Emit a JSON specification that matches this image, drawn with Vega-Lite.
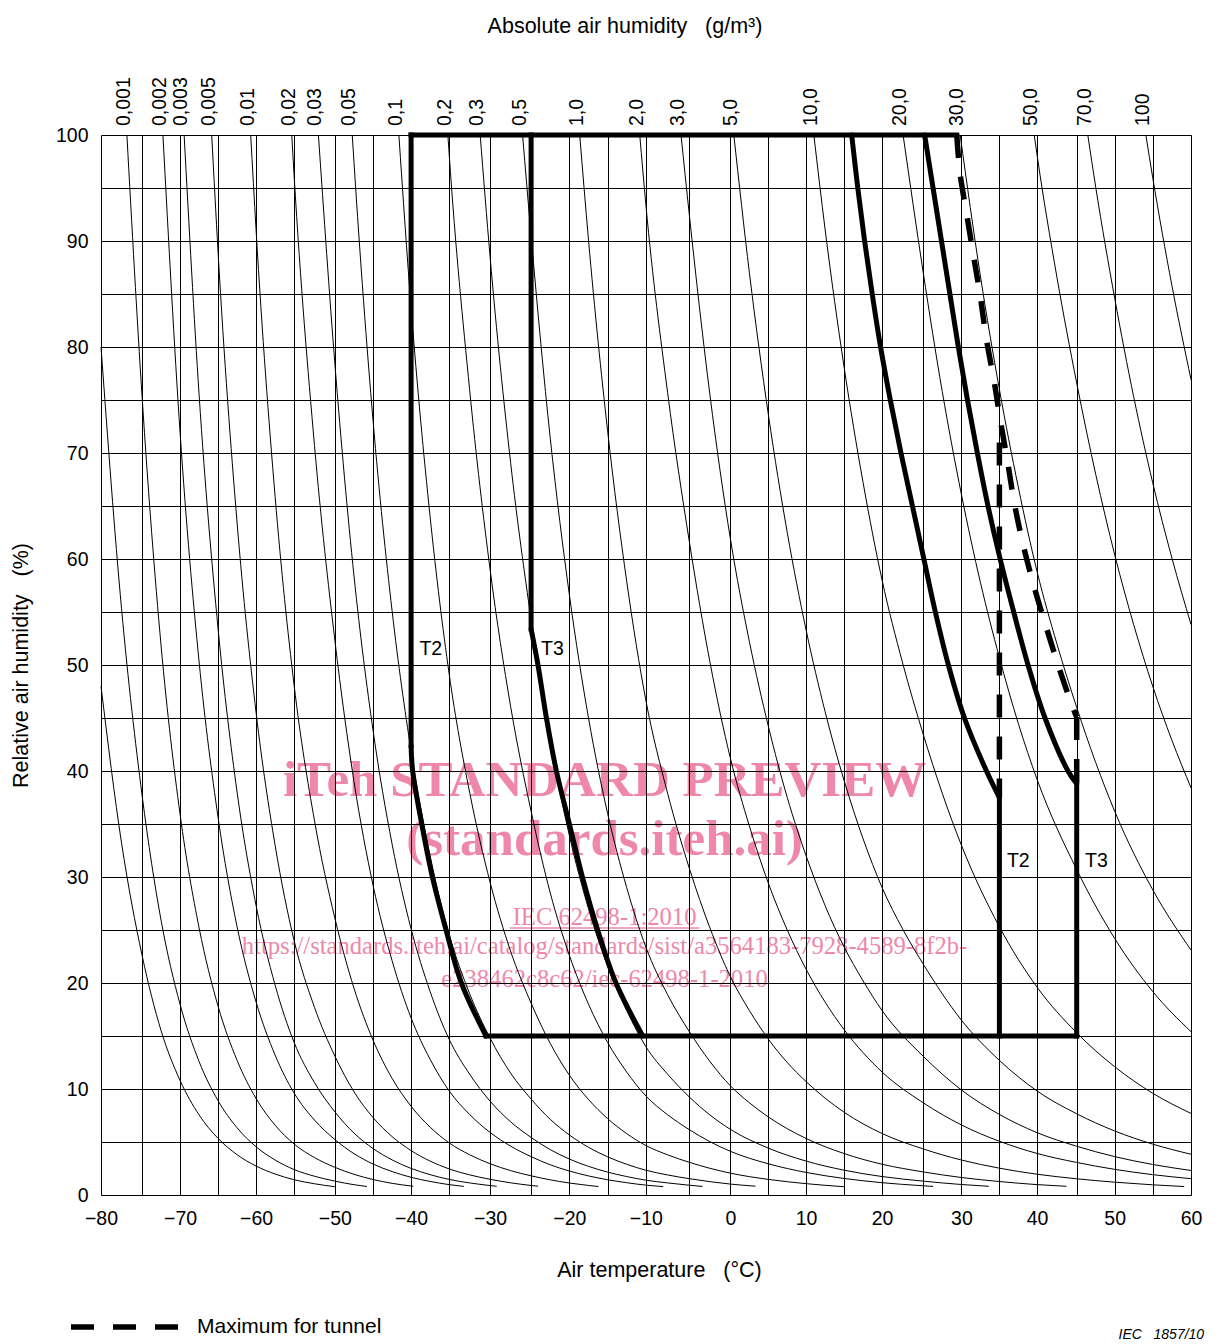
{
"$schema": "https://vega.github.io/schema/vega-lite/v6.json",
"width": 1090, "height": 1060,
"autosize": {"type": "none"},
"padding": {"left": 101, "top": 135, "right": 35, "bottom": 149},
"background": "white",
"config": {"view": {"stroke": null}, "font": "Liberation Sans"},
"title": {"text": "Absolute air humidity\u00a0\u00a0\u00a0(g/m³)", "font": "Liberation Sans", "fontSize": 21.5, "fontWeight": "normal", "color": "#000", "anchor": "middle", "frame": "group", "dx": -21, "offset": 40},
"datasets": {
"curves": [
{"a":"0,0003","t":-80,"r":48},{"a":"0,0003","t":-77.5,"r":33.2},{"a":"0,0003","t":-75,"r":22.6},{"a":"0,0003","t":-72.5,"r":15.5},{"a":"0,0003","t":-70,"r":10.8},{"a":"0,0003","t":-67.5,"r":7.55},{"a":"0,0003","t":-65,"r":5.34},{"a":"0,0003","t":-62.5,"r":3.8},{"a":"0,0003","t":-60,"r":2.73},{"a":"0,0003","t":-57.5,"r":1.98},{"a":"0,0003","t":-55,"r":1.44},{"a":"0,0003","t":-52.5,"r":1.06},{"a":"0,0003","t":-50,"r":0.78},
{"a":"0,0005","t":-80,"r":80},{"a":"0,0005","t":-77.5,"r":55.3},{"a":"0,0005","t":-75,"r":37.7},{"a":"0,0005","t":-72.5,"r":25.9},{"a":"0,0005","t":-70,"r":17.97},{"a":"0,0005","t":-67.5,"r":12.59},{"a":"0,0005","t":-65,"r":8.89},{"a":"0,0005","t":-62.5,"r":6.34},{"a":"0,0005","t":-60,"r":4.55},{"a":"0,0005","t":-57.5,"r":3.3},{"a":"0,0005","t":-55,"r":2.4},{"a":"0,0005","t":-52.5,"r":1.77},{"a":"0,0005","t":-50,"r":1.31},{"a":"0,0005","t":-47.5,"r":0.97},{"a":"0,0005","t":-45.8,"r":0.8},
{"a":"0,001","t":-76.85,"r":100},{"a":"0,001","t":-75,"r":75.3},{"a":"0,001","t":-72.5,"r":51.8},{"a":"0,001","t":-70,"r":35.9},{"a":"0,001","t":-67.5,"r":25.2},{"a":"0,001","t":-65,"r":17.8},{"a":"0,001","t":-62.5,"r":12.7},{"a":"0,001","t":-60,"r":9.1},{"a":"0,001","t":-57.5,"r":6.59},{"a":"0,001","t":-55,"r":4.81},{"a":"0,001","t":-52.5,"r":3.53},{"a":"0,001","t":-50,"r":2.61},{"a":"0,001","t":-47.5,"r":1.95},{"a":"0,001","t":-45,"r":1.46},{"a":"0,001","t":-42.5,"r":1.1},{"a":"0,001","t":-39.7,"r":0.82},
{"a":"0,002","t":-72.26,"r":100},{"a":"0,002","t":-70,"r":71.9},{"a":"0,002","t":-67.5,"r":50.3},{"a":"0,002","t":-65,"r":35.6},{"a":"0,002","t":-62.5,"r":25.3},{"a":"0,002","t":-60,"r":18.2},{"a":"0,002","t":-57.5,"r":13.2},{"a":"0,002","t":-55,"r":9.62},{"a":"0,002","t":-52.5,"r":7.07},{"a":"0,002","t":-50,"r":5.23},{"a":"0,002","t":-47.5,"r":3.9},{"a":"0,002","t":-45,"r":2.92},{"a":"0,002","t":-42.5,"r":2.21},{"a":"0,002","t":-40,"r":1.67},{"a":"0,002","t":-37.5,"r":1.28},{"a":"0,002","t":-35,"r":0.98},{"a":"0,002","t":-33.2,"r":0.81},
{"a":"0,003","t":-69.47,"r":100},{"a":"0,003","t":-67.5,"r":75.5},{"a":"0,003","t":-65,"r":53.4},{"a":"0,003","t":-62.5,"r":38},{"a":"0,003","t":-60,"r":27.3},{"a":"0,003","t":-57.5,"r":19.8},{"a":"0,003","t":-55,"r":14.4},{"a":"0,003","t":-52.5,"r":10.6},{"a":"0,003","t":-50,"r":7.84},{"a":"0,003","t":-47.5,"r":5.84},{"a":"0,003","t":-45,"r":4.38},{"a":"0,003","t":-42.5,"r":3.31},{"a":"0,003","t":-40,"r":2.51},{"a":"0,003","t":-37.5,"r":1.92},{"a":"0,003","t":-35,"r":1.47},{"a":"0,003","t":-32.5,"r":1.14},{"a":"0,003","t":-30,"r":0.89},{"a":"0,003","t":-29.2,"r":0.82},
{"a":"0,005","t":-65.84,"r":100},{"a":"0,005","t":-65,"r":88.9},{"a":"0,005","t":-62.5,"r":63.4},{"a":"0,005","t":-60,"r":45.5},{"a":"0,005","t":-57.5,"r":33},{"a":"0,005","t":-55,"r":24},{"a":"0,005","t":-52.5,"r":17.7},{"a":"0,005","t":-50,"r":13.1},{"a":"0,005","t":-47.5,"r":9.74},{"a":"0,005","t":-45,"r":7.3},{"a":"0,005","t":-42.5,"r":5.51},{"a":"0,005","t":-40,"r":4.19},{"a":"0,005","t":-37.5,"r":3.2},{"a":"0,005","t":-35,"r":2.46},{"a":"0,005","t":-32.5,"r":1.9},{"a":"0,005","t":-30,"r":1.48},{"a":"0,005","t":-27.5,"r":1.15},{"a":"0,005","t":-25,"r":0.9},{"a":"0,005","t":-24.1,"r":0.83},
{"a":"0,01","t":-60.71,"r":100},{"a":"0,01","t":-60,"r":91},{"a":"0,01","t":-57.5,"r":65.9},{"a":"0,01","t":-55,"r":48.1},{"a":"0,01","t":-52.5,"r":35.3},{"a":"0,01","t":-50,"r":26.1},{"a":"0,01","t":-47.5,"r":19.5},{"a":"0,01","t":-45,"r":14.6},{"a":"0,01","t":-42.5,"r":11},{"a":"0,01","t":-40,"r":8.37},{"a":"0,01","t":-37.5,"r":6.4},{"a":"0,01","t":-35,"r":4.92},{"a":"0,01","t":-32.5,"r":3.8},{"a":"0,01","t":-30,"r":2.95},{"a":"0,01","t":-27.5,"r":2.3},{"a":"0,01","t":-25,"r":1.81},{"a":"0,01","t":-22.5,"r":1.43},{"a":"0,01","t":-20,"r":1.13},{"a":"0,01","t":-17.5,"r":0.9},{"a":"0,01","t":-16.2,"r":0.8},
{"a":"0,02","t":-55.31,"r":100},{"a":"0,02","t":-55,"r":96.2},{"a":"0,02","t":-52.5,"r":70.7},{"a":"0,02","t":-50,"r":52.3},{"a":"0,02","t":-47.5,"r":39},{"a":"0,02","t":-45,"r":29.2},{"a":"0,02","t":-42.5,"r":22.1},{"a":"0,02","t":-40,"r":16.7},{"a":"0,02","t":-37.5,"r":12.8},{"a":"0,02","t":-35,"r":9.83},{"a":"0,02","t":-32.5,"r":7.6},{"a":"0,02","t":-30,"r":5.9},{"a":"0,02","t":-27.5,"r":4.61},{"a":"0,02","t":-25,"r":3.62},{"a":"0,02","t":-22.5,"r":2.85},{"a":"0,02","t":-20,"r":2.26},{"a":"0,02","t":-17.5,"r":1.8},{"a":"0,02","t":-15,"r":1.44},{"a":"0,02","t":-12.5,"r":1.16},{"a":"0,02","t":-10,"r":0.93},{"a":"0,02","t":-8,"r":0.79},
{"a":"0,03","t":-52.02,"r":100},{"a":"0,03","t":-50,"r":78.4},{"a":"0,03","t":-47.5,"r":58.4},{"a":"0,03","t":-45,"r":43.8},{"a":"0,03","t":-42.5,"r":33.1},{"a":"0,03","t":-40,"r":25.1},{"a":"0,03","t":-37.5,"r":19.2},{"a":"0,03","t":-35,"r":14.7},{"a":"0,03","t":-32.5,"r":11.4},{"a":"0,03","t":-30,"r":8.85},{"a":"0,03","t":-27.5,"r":6.91},{"a":"0,03","t":-25,"r":5.43},{"a":"0,03","t":-22.5,"r":4.28},{"a":"0,03","t":-20,"r":3.39},{"a":"0,03","t":-17.5,"r":2.7},{"a":"0,03","t":-15,"r":2.16},{"a":"0,03","t":-12.5,"r":1.74},{"a":"0,03","t":-10,"r":1.4},{"a":"0,03","t":-7.5,"r":1.14},{"a":"0,03","t":-5,"r":0.92},{"a":"0,03","t":-3.4,"r":0.81},
{"a":"0,05","t":-47.73,"r":100},{"a":"0,05","t":-47.5,"r":97.4},{"a":"0,05","t":-45,"r":73},{"a":"0,05","t":-42.5,"r":55.1},{"a":"0,05","t":-40,"r":41.9},{"a":"0,05","t":-37.5,"r":32},{"a":"0,05","t":-35,"r":24.6},{"a":"0,05","t":-32.5,"r":19},{"a":"0,05","t":-30,"r":14.8},{"a":"0,05","t":-27.5,"r":11.5},{"a":"0,05","t":-25,"r":9.05},{"a":"0,05","t":-22.5,"r":7.14},{"a":"0,05","t":-20,"r":5.66},{"a":"0,05","t":-17.5,"r":4.5},{"a":"0,05","t":-15,"r":3.6},{"a":"0,05","t":-12.5,"r":2.9},{"a":"0,05","t":-10,"r":2.34},{"a":"0,05","t":-7.5,"r":1.89},{"a":"0,05","t":-5,"r":1.54},{"a":"0,05","t":-2.5,"r":1.26},{"a":"0,05","t":0,"r":1.03},{"a":"0,05","t":3.3,"r":0.83},
{"a":"0,1","t":-41.61,"r":100},{"a":"0,1","t":-40,"r":83.7},{"a":"0,1","t":-37.5,"r":64},{"a":"0,1","t":-35,"r":49.2},{"a":"0,1","t":-32.5,"r":38},{"a":"0,1","t":-30,"r":29.5},{"a":"0,1","t":-27.5,"r":23},{"a":"0,1","t":-25,"r":18.1},{"a":"0,1","t":-22.5,"r":14.3},{"a":"0,1","t":-20,"r":11.3},{"a":"0,1","t":-17.5,"r":9.01},{"a":"0,1","t":-15,"r":7.21},{"a":"0,1","t":-12.5,"r":5.79},{"a":"0,1","t":-10,"r":4.67},{"a":"0,1","t":-7.5,"r":3.79},{"a":"0,1","t":-5,"r":3.08},{"a":"0,1","t":-2.5,"r":2.52},{"a":"0,1","t":0,"r":2.06},{"a":"0,1","t":5,"r":1.47},{"a":"0,1","t":10,"r":1.07},{"a":"0,1","t":15,"r":0.78},
{"a":"0,2","t":-35.16,"r":100},{"a":"0,2","t":-35,"r":98.3},{"a":"0,2","t":-32.5,"r":76},{"a":"0,2","t":-30,"r":59},{"a":"0,2","t":-27.5,"r":46.1},{"a":"0,2","t":-25,"r":36.2},{"a":"0,2","t":-22.5,"r":28.5},{"a":"0,2","t":-20,"r":22.6},{"a":"0,2","t":-17.5,"r":18},{"a":"0,2","t":-15,"r":14.4},{"a":"0,2","t":-12.5,"r":11.6},{"a":"0,2","t":-10,"r":9.35},{"a":"0,2","t":-7.5,"r":7.57},{"a":"0,2","t":-5,"r":6.16},{"a":"0,2","t":-2.5,"r":5.03},{"a":"0,2","t":0,"r":4.12},{"a":"0,2","t":5,"r":2.94},{"a":"0,2","t":10,"r":2.13},{"a":"0,2","t":15,"r":1.56},{"a":"0,2","t":20,"r":1.16},{"a":"0,2","t":25,"r":0.87},{"a":"0,2","t":26.3,"r":0.81},
{"a":"0,3","t":-31.21,"r":100},{"a":"0,3","t":-30,"r":88.5},{"a":"0,3","t":-27.5,"r":69.1},{"a":"0,3","t":-25,"r":54.3},{"a":"0,3","t":-22.5,"r":42.8},{"a":"0,3","t":-20,"r":33.9},{"a":"0,3","t":-17.5,"r":27},{"a":"0,3","t":-15,"r":21.6},{"a":"0,3","t":-12.5,"r":17.4},{"a":"0,3","t":-10,"r":14},{"a":"0,3","t":-7.5,"r":11.4},{"a":"0,3","t":-5,"r":9.24},{"a":"0,3","t":-2.5,"r":7.55},{"a":"0,3","t":0,"r":6.19},{"a":"0,3","t":5,"r":4.42},{"a":"0,3","t":10,"r":3.2},{"a":"0,3","t":15,"r":2.34},{"a":"0,3","t":20,"r":1.74},{"a":"0,3","t":25,"r":1.31},{"a":"0,3","t":30,"r":0.99},{"a":"0,3","t":33.6,"r":0.82},
{"a":"0,5","t":-26.04,"r":100},{"a":"0,5","t":-25,"r":90.5},{"a":"0,5","t":-22.5,"r":71.4},{"a":"0,5","t":-20,"r":56.6},{"a":"0,5","t":-17.5,"r":45},{"a":"0,5","t":-15,"r":36},{"a":"0,5","t":-12.5,"r":29},{"a":"0,5","t":-10,"r":23.4},{"a":"0,5","t":-7.5,"r":18.9},{"a":"0,5","t":-5,"r":15.4},{"a":"0,5","t":-2.5,"r":12.6},{"a":"0,5","t":0,"r":10.3},{"a":"0,5","t":2.5,"r":8.7},{"a":"0,5","t":5,"r":7.36},{"a":"0,5","t":10,"r":5.33},{"a":"0,5","t":15,"r":3.91},{"a":"0,5","t":20,"r":2.9},{"a":"0,5","t":25,"r":2.18},{"a":"0,5","t":30,"r":1.65},{"a":"0,5","t":35,"r":1.27},{"a":"0,5","t":40,"r":0.98},{"a":"0,5","t":43.7,"r":0.82},
{"a":"1,0","t":-18.65,"r":100},{"a":"1,0","t":-17.5,"r":90.1},{"a":"1,0","t":-15,"r":72.1},{"a":"1,0","t":-12.5,"r":57.9},{"a":"1,0","t":-10,"r":46.7},{"a":"1,0","t":-7.5,"r":37.9},{"a":"1,0","t":-5,"r":30.8},{"a":"1,0","t":-2.5,"r":25.2},{"a":"1,0","t":0,"r":20.6},{"a":"1,0","t":2.5,"r":17.4},{"a":"1,0","t":5,"r":14.7},{"a":"1,0","t":7.5,"r":12.5},{"a":"1,0","t":10,"r":10.7},{"a":"1,0","t":15,"r":7.81},{"a":"1,0","t":20,"r":5.8},{"a":"1,0","t":25,"r":4.35},{"a":"1,0","t":30,"r":3.3},{"a":"1,0","t":35,"r":2.53},{"a":"1,0","t":40,"r":1.96},{"a":"1,0","t":45,"r":1.53},{"a":"1,0","t":50,"r":1.21},{"a":"1,0","t":55,"r":0.96},{"a":"1,0","t":59.1,"r":0.8},
{"a":"2,0","t":-10.79,"r":100},{"a":"2,0","t":-10,"r":93.5},{"a":"2,0","t":-7.5,"r":75.7},{"a":"2,0","t":-5,"r":61.6},{"a":"2,0","t":-2.5,"r":50.3},{"a":"2,0","t":0,"r":41.2},{"a":"2,0","t":2.5,"r":34.8},{"a":"2,0","t":5,"r":29.4},{"a":"2,0","t":7.5,"r":25},{"a":"2,0","t":10,"r":21.3},{"a":"2,0","t":12.5,"r":18.2},{"a":"2,0","t":15,"r":15.6},{"a":"2,0","t":20,"r":11.6},{"a":"2,0","t":25,"r":8.71},{"a":"2,0","t":30,"r":6.61},{"a":"2,0","t":35,"r":5.07},{"a":"2,0","t":40,"r":3.92},{"a":"2,0","t":45,"r":3.07},{"a":"2,0","t":50,"r":2.42},{"a":"2,0","t":55,"r":1.92},{"a":"2,0","t":60,"r":1.54},
{"a":"3,0","t":-5.96,"r":100},{"a":"3,0","t":-5,"r":92.4},{"a":"3,0","t":-2.5,"r":75.5},{"a":"3,0","t":0,"r":61.9},{"a":"3,0","t":2.5,"r":52.2},{"a":"3,0","t":5,"r":44.2},{"a":"3,0","t":7.5,"r":37.5},{"a":"3,0","t":10,"r":32},{"a":"3,0","t":12.5,"r":27.3},{"a":"3,0","t":15,"r":23.4},{"a":"3,0","t":17.5,"r":20.2},{"a":"3,0","t":20,"r":17.4},{"a":"3,0","t":25,"r":13.1},{"a":"3,0","t":30,"r":9.91},{"a":"3,0","t":35,"r":7.6},{"a":"3,0","t":40,"r":5.88},{"a":"3,0","t":45,"r":4.6},{"a":"3,0","t":50,"r":3.62},{"a":"3,0","t":55,"r":2.88},{"a":"3,0","t":60,"r":2.31},
{"a":"5,0","t":0.45,"r":100},{"a":"5,0","t":2.5,"r":87},{"a":"5,0","t":5,"r":73.6},{"a":"5,0","t":7.5,"r":62.5},{"a":"5,0","t":10,"r":53.3},{"a":"5,0","t":12.5,"r":45.6},{"a":"5,0","t":15,"r":39.1},{"a":"5,0","t":17.5,"r":33.6},{"a":"5,0","t":20,"r":29},{"a":"5,0","t":22.5,"r":25.1},{"a":"5,0","t":25,"r":21.8},{"a":"5,0","t":30,"r":16.5},{"a":"5,0","t":35,"r":12.7},{"a":"5,0","t":40,"r":9.81},{"a":"5,0","t":45,"r":7.66},{"a":"5,0","t":50,"r":6.04},{"a":"5,0","t":55,"r":4.8},{"a":"5,0","t":60,"r":3.84},
{"a":"10,0","t":11.02,"r":100},{"a":"10,0","t":12.5,"r":91.1},{"a":"10,0","t":15,"r":78.1},{"a":"10,0","t":17.5,"r":67.2},{"a":"10,0","t":20,"r":58},{"a":"10,0","t":22.5,"r":50.2},{"a":"10,0","t":25,"r":43.5},{"a":"10,0","t":27.5,"r":37.9},{"a":"10,0","t":30,"r":33},{"a":"10,0","t":35,"r":25.3},{"a":"10,0","t":40,"r":19.6},{"a":"10,0","t":45,"r":15.3},{"a":"10,0","t":50,"r":12.1},{"a":"10,0","t":55,"r":9.6},{"a":"10,0","t":60,"r":7.69},
{"a":"20,0","t":22.56,"r":100},{"a":"20,0","t":25,"r":87.1},{"a":"20,0","t":27.5,"r":75.8},{"a":"20,0","t":30,"r":66.1},{"a":"20,0","t":32.5,"r":57.8},{"a":"20,0","t":35,"r":50.7},{"a":"20,0","t":37.5,"r":44.5},{"a":"20,0","t":40,"r":39.2},{"a":"20,0","t":45,"r":30.7},{"a":"20,0","t":50,"r":24.2},{"a":"20,0","t":55,"r":19.2},{"a":"20,0","t":60,"r":15.4},
{"a":"30,0","t":29.84,"r":100},{"a":"30,0","t":32.5,"r":86.7},{"a":"30,0","t":35,"r":76},{"a":"30,0","t":37.5,"r":66.8},{"a":"30,0","t":40,"r":58.8},{"a":"30,0","t":42.5,"r":52},{"a":"30,0","t":45,"r":46},{"a":"30,0","t":47.5,"r":40.8},{"a":"30,0","t":50,"r":36.2},{"a":"30,0","t":55,"r":28.8},{"a":"30,0","t":60,"r":23.1},
{"a":"50,0","t":39.62,"r":100},{"a":"50,0","t":40,"r":98.1},{"a":"50,0","t":42.5,"r":86.6},{"a":"50,0","t":45,"r":76.6},{"a":"50,0","t":47.5,"r":68},{"a":"50,0","t":50,"r":60.4},{"a":"50,0","t":52.5,"r":53.8},{"a":"50,0","t":55,"r":48},{"a":"50,0","t":57.5,"r":42.9},{"a":"50,0","t":60,"r":38.4},
{"a":"70,0","t":46.46,"r":100},{"a":"70,0","t":47.5,"r":95.1},{"a":"70,0","t":50,"r":84.6},{"a":"70,0","t":52.5,"r":75.3},{"a":"70,0","t":55,"r":67.2},{"a":"70,0","t":57.5,"r":60.1},{"a":"70,0","t":60,"r":53.8},
{"a":"100","t":54.1,"r":100},{"a":"100","t":55,"r":96},{"a":"100","t":57.5,"r":85.8},{"a":"100","t":60,"r":76.9}
],
"toplabels": [
{"txt":"0,001","t":-76.85,"r":100},{"txt":"0,002","t":-72.26,"r":100},{"txt":"0,003","t":-69.47,"r":100},{"txt":"0,005","t":-65.84,"r":100},{"txt":"0,01","t":-60.71,"r":100},{"txt":"0,02","t":-55.31,"r":100},{"txt":"0,03","t":-52.02,"r":100},{"txt":"0,05","t":-47.73,"r":100},{"txt":"0,1","t":-41.61,"r":100},{"txt":"0,2","t":-35.16,"r":100},{"txt":"0,3","t":-31.21,"r":100},{"txt":"0,5","t":-26.04,"r":100},{"txt":"1,0","t":-18.65,"r":100},{"txt":"2,0","t":-10.79,"r":100},{"txt":"3,0","t":-5.96,"r":100},{"txt":"5,0","t":0.45,"r":100},{"txt":"10,0","t":11.02,"r":100},{"txt":"20,0","t":22.56,"r":100},{"txt":"30,0","t":29.84,"r":100},{"txt":"50,0","t":39.62,"r":100},{"txt":"70,0","t":46.46,"r":100},{"txt":"100","t":54.1,"r":100}
],
"thickCurves": [
{"seg":"T2L","i":0,"t":-40,"r":42.4},{"seg":"T2L","i":1,"t":-39.8,"r":40},{"seg":"T2L","i":2,"t":-38.6,"r":35},{"seg":"T2L","i":3,"t":-37.2,"r":30},{"seg":"T2L","i":4,"t":-35.4,"r":25},{"seg":"T2L","i":5,"t":-33.5,"r":20},{"seg":"T2L","i":6,"t":-30.5,"r":15},
{"seg":"T3L","i":0,"t":-25,"r":53.4},{"seg":"T3L","i":1,"t":-24.1,"r":50},{"seg":"T3L","i":2,"t":-23,"r":45},{"seg":"T3L","i":3,"t":-21.7,"r":40},{"seg":"T3L","i":4,"t":-20,"r":35},{"seg":"T3L","i":5,"t":-18.3,"r":30},{"seg":"T3L","i":6,"t":-16.3,"r":25},{"seg":"T3L","i":7,"t":-13.9,"r":20},{"seg":"T3L","i":8,"t":-10.4,"r":15},
{"seg":"T2R","i":0,"t":16,"r":100},{"seg":"T2R","i":1,"t":16.8,"r":95},{"seg":"T2R","i":2,"t":17.7,"r":90},{"seg":"T2R","i":3,"t":18.7,"r":85},{"seg":"T2R","i":4,"t":19.8,"r":80},{"seg":"T2R","i":5,"t":21,"r":75},{"seg":"T2R","i":6,"t":22.3,"r":70},{"seg":"T2R","i":7,"t":23.7,"r":65},{"seg":"T2R","i":8,"t":25.1,"r":60},{"seg":"T2R","i":9,"t":26.6,"r":55},{"seg":"T2R","i":10,"t":28.3,"r":50},{"seg":"T2R","i":11,"t":30.4,"r":45},{"seg":"T2R","i":12,"t":33.3,"r":40},{"seg":"T2R","i":13,"t":35,"r":37.5},
{"seg":"T3R","i":0,"t":25.2,"r":100},{"seg":"T3R","i":1,"t":26.3,"r":95},{"seg":"T3R","i":2,"t":27.4,"r":90},{"seg":"T3R","i":3,"t":28.5,"r":85},{"seg":"T3R","i":4,"t":29.6,"r":80},{"seg":"T3R","i":5,"t":30.8,"r":75},{"seg":"T3R","i":6,"t":32.1,"r":70},{"seg":"T3R","i":7,"t":33.5,"r":65},{"seg":"T3R","i":8,"t":35.1,"r":60},{"seg":"T3R","i":9,"t":36.9,"r":55},{"seg":"T3R","i":10,"t":38.8,"r":50},{"seg":"T3R","i":11,"t":41,"r":45},{"seg":"T3R","i":12,"t":43.9,"r":40},{"seg":"T3R","i":13,"t":45,"r":38.8}
],
"thickStraight": [
{"seg":"top","i":0,"t":-40,"r":100},{"seg":"top","i":1,"t":29.4,"r":100},
{"seg":"L2","i":0,"t":-40,"r":100},{"seg":"L2","i":1,"t":-40,"r":42.4},
{"seg":"L3","i":0,"t":-25,"r":100},{"seg":"L3","i":1,"t":-25,"r":53.4},
{"seg":"bot","i":0,"t":-30.5,"r":15},{"seg":"bot","i":1,"t":45,"r":15},
{"seg":"R2","i":0,"t":35,"r":37.5},{"seg":"R2","i":1,"t":35,"r":15},
{"seg":"R3","i":0,"t":45,"r":38.8},{"seg":"R3","i":1,"t":45,"r":15}
],
"tunnel": [
{"kind":"Maximum for tunnel","i":0,"t":29.4,"r":100},{"kind":"Maximum for tunnel","i":1,"t":29.8,"r":96.5},{"kind":"Maximum for tunnel","i":2,"t":30.7,"r":92.5},{"kind":"Maximum for tunnel","i":3,"t":31.6,"r":88.6},{"kind":"Maximum for tunnel","i":4,"t":32.5,"r":84.7},{"kind":"Maximum for tunnel","i":5,"t":33.3,"r":80.7},{"kind":"Maximum for tunnel","i":6,"t":34.3,"r":76.8},{"kind":"Maximum for tunnel","i":7,"t":35.1,"r":73.2},{"kind":"Maximum for tunnel","i":8,"t":36.1,"r":69.1},{"kind":"Maximum for tunnel","i":9,"t":37,"r":65.2},{"kind":"Maximum for tunnel","i":10,"t":38.2,"r":61.2},{"kind":"Maximum for tunnel","i":11,"t":39.6,"r":57.4},{"kind":"Maximum for tunnel","i":12,"t":41.1,"r":53.7},{"kind":"Maximum for tunnel","i":13,"t":42.7,"r":49.9},{"kind":"Maximum for tunnel","i":14,"t":44.4,"r":46.2},{"kind":"Maximum for tunnel","i":15,"t":45,"r":45.1}
],
"tunnelStraight": [
{"seg":"D35","i":0,"t":35,"r":71},{"seg":"D35","i":1,"t":35,"r":37.5},
{"seg":"D45","i":0,"t":45,"r":45.1},{"seg":"D45","i":1,"t":45,"r":38.8}
],
"tlabels": [
{"txt":"T2","t":-38.9,"r":51.5},{"txt":"T3","t":-23.7,"r":51.5},{"txt":"T2","t":36,"r":31.5},{"txt":"T3","t":46.1,"r":31.5}
],
"wmBig": [
{"txt":"iTeh STANDARD PREVIEW","t":-15.4,"r":37.6},{"txt":"(standards.iteh.ai)","t":-15.4,"r":32.1}
],
"wmSmall": [
{"txt":"IEC 62498-1:2010","t":-15.4,"r":25.5},{"txt":"https://standards.iteh.ai/catalog/standards/sist/a3564183-7928-4589-8f2b-","t":-15.4,"r":22.7},{"txt":"e238462c8c62/iec-62498-1-2010","t":-15.4,"r":19.6}
],
"underline": [{"t":-27.6,"t2":-3.8,"r":25.2}],
"note": [{"txt":"IEC\u00a0\u00a0\u00a01857/10","t":61.7,"r":-13.6}]
},
"encoding": {
"x": {"field": "t", "type": "quantitative",
 "scale": {"domain": [-80,-75,-70,-65,-60,-55,-50,-45,-40,-35,-30,-25,-20,-15,-10,-5,0,5,10,15,20,25,30,35,40,45,50,55,60],
  "range": [0,41.1,79.1,117.1,155.1,193.1,233.9,272.1,310.1,348.1,389.1,430.1,468.4,506.6,544.8,588.4,629.4,667.4,705.1,743.1,781.1,822.1,860.4,898.4,936.1,975.7,1013.7,1051.7,1090.1], "zero": false, "nice": false},
 "axis": {"values": [-80,-75,-70,-65,-60,-55,-50,-45,-40,-35,-30,-25,-20,-15,-10,-5,0,5,10,15,20,25,30,35,40,45,50,55,60],
  "labelExpr": "datum.value % 10 == 0 ? datum.label : ''", "grid": true, "gridColor": "#000", "gridWidth": 1, "gridOpacity": 1,
  "domain": false, "ticks": false, "tickSize": 0, "labelPadding": 14, "labelFontSize": 19.5, "labelFont": "Liberation Sans", "labelColor": "#000",
  "labelFlush": false, "labelOverlap": false, "title": "Air temperature\u00a0\u00a0\u00a0(°C)", "titleFontSize": 21.5, "titleFont": "Liberation Sans",
  "titleFontWeight": "normal", "titleColor": "#000", "titlePadding": 32, "titleX": 558, "zindex": 1}},
"y": {"field": "r", "type": "quantitative",
 "scale": {"domain": [0, 100], "zero": false, "nice": false},
 "axis": {"values": [0,5,10,15,20,25,30,35,40,45,50,55,60,65,70,75,80,85,90,95,100],
  "labelExpr": "datum.value % 10 == 0 ? datum.label : ''", "grid": true, "gridColor": "#000", "gridWidth": 1, "gridOpacity": 1,
  "domain": false, "ticks": false, "tickSize": 0, "labelPadding": 13, "labelFontSize": 19.5, "labelFont": "Liberation Sans", "labelColor": "#000",
  "labelFlush": false, "labelOverlap": false, "title": "Relative air humidity\u00a0\u00a0\u00a0(%)", "titleFontSize": 21.5, "titleFont": "Liberation Sans",
  "titleFontWeight": "normal", "titleColor": "#000", "titlePadding": 23, "zindex": 1}}
},
"layer": [
{"data": {"name": "wmBig"}, "mark": {"type": "text", "font": "Liberation Serif", "fontSize": 51, "fontWeight": "bold", "color": "#ee87a9", "align": "center", "baseline": "alphabetic"}, "encoding": {"text": {"field": "txt"}}},
{"data": {"name": "wmSmall"}, "mark": {"type": "text", "font": "Liberation Serif", "fontSize": 24.6, "color": "#ee87a9", "align": "center", "baseline": "alphabetic"}, "encoding": {"text": {"field": "txt"}}},
{"data": {"name": "underline"}, "mark": {"type": "rule", "color": "#ee87a9", "strokeWidth": 1.5}, "encoding": {"x2": {"field": "t2"}}},
{"data": {"name": "curves"}, "mark": {"type": "line", "interpolate": "monotone", "color": "#000", "strokeWidth": 1}, "encoding": {"detail": {"field": "a"}}},
{"data": {"name": "thickCurves"}, "mark": {"type": "line", "interpolate": "catmull-rom", "color": "#000", "strokeWidth": 5, "strokeCap": "round"}, "encoding": {"detail": {"field": "seg"}, "order": {"field": "i"}}},
{"data": {"name": "thickStraight"}, "mark": {"type": "line", "color": "#000", "strokeWidth": 5, "strokeCap": "square"}, "encoding": {"detail": {"field": "seg"}, "order": {"field": "i"}}},
{"data": {"name": "tunnel"}, "mark": {"type": "line", "interpolate": "catmull-rom", "color": "#000", "strokeWidth": 5.5},
 "encoding": {"order": {"field": "i"}, "strokeDash": {"field": "kind", "type": "nominal", "scale": {"domain": ["Maximum for tunnel"], "range": [[23, 19]]},
  "legend": {"orient": "none", "legendX": -33, "legendY": 1135, "title": null, "symbolType": "stroke", "symbolSize": 11664, "symbolStrokeWidth": 5.5, "symbolDash": [23, 19], "symbolStrokeColor": "#000", "labelFontSize": 21, "labelFont": "Liberation Sans", "labelColor": "#000", "labelOffset": 15, "labelLimit": 500, "padding": 0}}}},
{"data": {"name": "tunnelStraight"}, "mark": {"type": "line", "color": "#000", "strokeWidth": 5.5, "strokeDash": [23, 19]}, "encoding": {"detail": {"field": "seg"}, "order": {"field": "i"}}},
{"data": {"name": "toplabels"}, "mark": {"type": "text", "angle": 270, "align": "left", "baseline": "middle", "dx": 9, "dy": -3, "fontSize": 19.5, "font": "Liberation Sans", "color": "#000"}, "encoding": {"text": {"field": "txt"}}},
{"data": {"name": "tlabels"}, "mark": {"type": "text", "align": "left", "baseline": "middle", "fontSize": 19.5, "font": "Liberation Sans", "color": "#000"}, "encoding": {"text": {"field": "txt"}}},
{"data": {"name": "note"}, "mark": {"type": "text", "align": "right", "baseline": "alphabetic", "fontSize": 14, "fontStyle": "italic", "font": "Liberation Sans", "color": "#000"}, "encoding": {"text": {"field": "txt"}}}
]
}
